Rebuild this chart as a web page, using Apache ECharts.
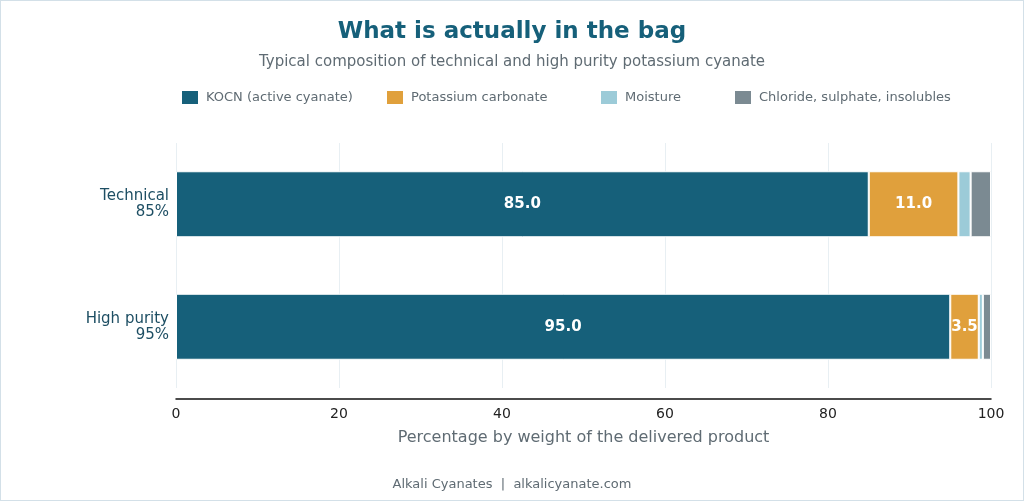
<!DOCTYPE html>
<html>
<head>
<meta charset="utf-8">
<script src="https://cdn.jsdelivr.net/npm/echarts@6/dist/echarts.min.js"></script>
<style>
  html,body{margin:0;padding:0;background:#fff;}
  #main{width:1024px;height:501px;box-sizing:border-box;border:1px solid #d3e0e8;}
</style>
</head>
<body>
<div id="main"></div>
<script>
var grades=["Technical\n85%","High purity\n95%"];
var seriesNames=["KOCN (active cyanate)","Potassium carbonate","Moisture","Chloride, sulphate, insolubles"];
var kocn=[85.0,95.0];
var carbonate=[11.0,3.5];
var moisture=[1.5,0.5];
var chloride=[2.5,1.0];
var colors=["#16607a","#e0a03c","#9ccbd8","#7b8a92"];
var xTicks=[0,20,40,60,80,100];

var myChart=echarts.init(document.getElementById('main'));

var legendLeft=[179,384,598,732];
var legends=seriesNames.map(function(n,i){
    return {
        data:[{name:n,icon:"rect"}],left:legendLeft[i],top:88,padding:0,itemWidth:18,itemHeight:15,itemGap:0,
        textStyle:{color:"#5f6b73",fontSize:13,fontFamily:"DejaVu Sans",padding:[0,0,0,2]},
        selectedMode:false
    };
});

var allData=[kocn,carbonate,moisture,chloride];
var series=allData.map(function(d,i){
    return {
        name:seriesNames[i],type:"bar",stack:"total",barWidth:66,
        data:d,
        itemStyle:{color:colors[i],borderColor:"#fff",borderWidth:1},
        label:{
            show:true,position:"inside",color:"#fff",fontSize:15,fontWeight:"bold",fontFamily:"DejaVu Sans",
            formatter:function(p){return p.value>=3?p.value.toFixed(1):"";}
        }
    };
});

var option={
    animation:false,
    title:[{
        text:"What is actually in the bag",left:"center",top:15,
        textStyle:{color:"#16607a",fontSize:23,fontWeight:"bold",fontFamily:"DejaVu Sans"}
    },{
        text:"Typical composition of technical and high purity potassium cyanate",left:"center",top:49,
        textStyle:{color:"#5f6b73",fontSize:15,fontWeight:"normal",fontFamily:"DejaVu Sans"}
    },{
        text:"Alkali Cyanates  |  alkalicyanate.com",left:"center",top:472,
        textStyle:{color:"#5f6b73",fontSize:13,fontWeight:"normal",fontFamily:"DejaVu Sans"}
    }],
    legend:legends,
    grid:{left:175,right:32,top:142,bottom:112},
    xAxis:{
        type:"value",min:0,max:100,interval:20,offset:11,
        name:"Percentage by weight of the delivered product",nameLocation:"middle",nameGap:31,
        nameTextStyle:{color:"#5f6b73",fontSize:16,fontFamily:"DejaVu Sans"},
        axisLine:{show:true,lineStyle:{color:"#111",width:1.5}},
        axisTick:{show:false},
        axisLabel:{color:"#222",fontSize:14,fontFamily:"DejaVu Sans",margin:8,
            formatter:function(v){return xTicks.indexOf(v)>=0?String(v):"";}},
        splitLine:{show:true,lineStyle:{color:"#e8eff3",width:1}}
    },
    yAxis:{
        type:"category",data:grades,inverse:true,
        axisLine:{show:false},axisTick:{show:false},
        axisLabel:{color:"#1d4e63",fontSize:15,fontFamily:"DejaVu Sans",margin:7,align:"right",lineHeight:16,padding:[5,0,0,0]}
    },
    series:series
};

myChart.setOption(option);
</script>
</body>
</html>
